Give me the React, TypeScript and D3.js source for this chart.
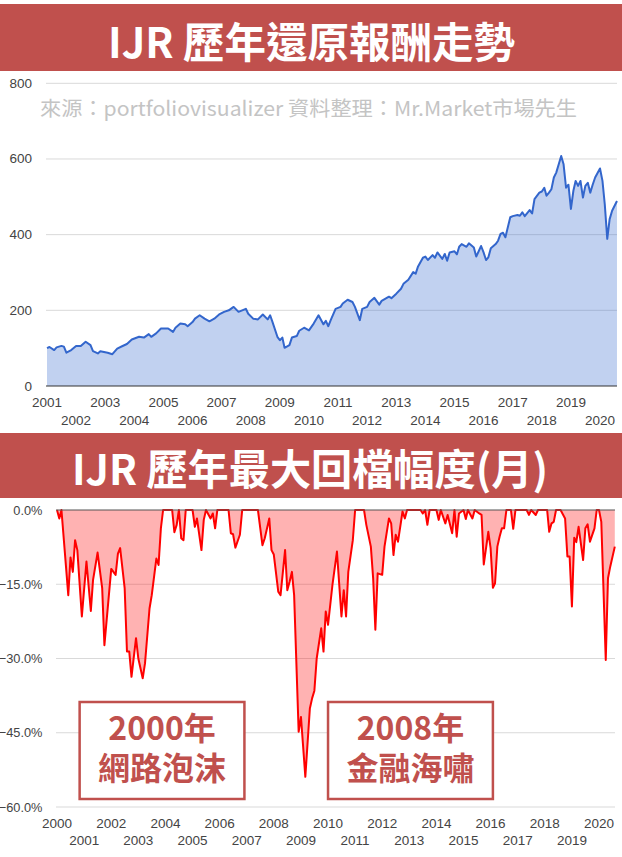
import React from "react";
import * as d3 from "d3";

// ---------- Data ----------
const returnDates = [
  "2001-01","2001-02","2001-04","2001-05","2001-07","2001-08","2001-09","2001-11",
  "2002-01","2002-03","2002-05","2002-07","2002-08","2002-10","2002-11",
  "2003-02","2003-04","2003-06","2003-08","2003-10","2003-12",
  "2004-03","2004-05","2004-07","2004-08","2004-10","2004-12",
  "2005-02","2005-03","2005-05","2005-06","2005-08","2005-10","2005-11",
  "2006-01","2006-02","2006-04","2006-06","2006-08","2006-10","2006-12",
  "2007-02","2007-04","2007-06","2007-08","2007-11","2007-12",
  "2008-02","2008-04","2008-06","2008-08","2008-09","2008-10","2008-12",
  "2009-01","2009-02","2009-03","2009-05","2009-06","2009-08","2009-09","2009-11",
  "2010-01","2010-03","2010-05","2010-07","2010-08","2010-09","2010-10","2010-12",
  "2011-02","2011-03","2011-05","2011-07","2011-08","2011-10","2011-11",
  "2012-01","2012-02","2012-04","2012-06","2012-07","2012-10","2012-11",
  "2013-01","2013-03","2013-04","2013-06","2013-08","2013-09","2013-10","2013-12",
  "2014-01","2014-02","2014-04","2014-05","2014-06","2014-08","2014-09","2014-10","2014-11",
  "2015-01","2015-02","2015-03","2015-04","2015-06","2015-07","2015-09","2015-10","2015-12",
  "2016-01","2016-02","2016-03","2016-04","2016-06","2016-07","2016-08","2016-09","2016-10","2016-12",
  "2017-01","2017-03","2017-04","2017-05","2017-06","2017-08","2017-09","2017-10","2017-12",
  "2018-01","2018-02","2018-03","2018-04","2018-05","2018-06","2018-07","2018-09","2018-10","2018-11","2018-12",
  "2019-01","2019-02","2019-03","2019-04","2019-05","2019-06","2019-07","2019-08","2019-09","2019-10","2019-11",
  "2020-01","2020-02","2020-03","2020-04","2020-05","2020-06","2020-08",
];
const returnValues = [
  100,103,95,102,106,104,88,95,
  106,106,117,108,92,86,92,
  88,84,99,105,111,123,
  130,128,137,130,139,152,
  152,152,143,154,165,163,158,
  169,178,187,178,171,178,189,
  196,200,209,196,204,191,
  178,176,189,176,187,169,130,
  121,128,101,108,128,132,146,154,
  147,165,187,163,172,158,174,204,
  209,218,228,222,209,174,204,
  209,222,233,215,225,236,232,
  244,257,270,281,301,297,316,339,
  342,333,346,339,353,336,349,331,353,
  356,348,368,375,368,377,366,342,370,
  353,333,340,364,375,384,402,405,393,446,
  449,452,450,459,449,465,456,494,511,
  514,524,503,511,520,551,564,608,586,524,532,
  468,516,542,529,542,498,529,537,511,532,551,
  575,542,480,389,441,463,489,
];

const drawdownDates = [
  "2000-01","2000-02","2000-03","2000-06","2000-07","2000-08","2000-09","2000-10","2000-12",
  "2001-02","2001-04","2001-05","2001-07","2001-09","2001-10",
  "2002-01","2002-03","2002-04","2002-05","2002-07","2002-08","2002-09","2002-10","2002-12",
  "2003-01","2003-03","2003-04","2003-06","2003-07","2003-09","2003-10","2003-11","2003-12",
  "2004-04","2004-05","2004-06","2004-07","2004-08","2004-09","2004-10",
  "2005-01","2005-02","2005-03","2005-05","2005-06","2005-07","2005-09","2005-10","2005-11","2005-12",
  "2006-05","2006-06","2006-07","2006-08","2006-10","2006-11",
  "2007-06","2007-08","2007-09","2007-11","2007-12",
  "2008-01","2008-03","2008-04","2008-06","2008-07","2008-08","2008-09","2008-10","2008-12",
  "2009-01","2009-03","2009-05","2009-06","2009-07","2009-08","2009-10","2009-11","2009-12",
  "2010-01","2010-03","2010-05","2010-07","2010-08","2010-09","2010-10","2010-12",
  "2011-01","2011-05","2011-06","2011-08","2011-09","2011-10","2011-11",
  "2012-01","2012-02","2012-04","2012-05","2012-06","2012-07","2012-08","2012-10","2012-11","2012-12",
  "2013-06","2013-07","2013-08","2013-09","2013-10",
  "2014-01","2014-02","2014-03","2014-05","2014-06","2014-08","2014-09","2014-10","2014-11",
  "2015-01","2015-02","2015-03","2015-05","2015-06","2015-08","2015-09","2015-10","2015-12",
  "2016-01","2016-02","2016-03","2016-04","2016-05","2016-06","2016-07","2016-08","2016-10","2016-11","2016-12",
  "2017-05","2017-06","2017-07","2017-09","2017-10",
  "2018-02","2018-03","2018-04","2018-05","2018-06","2018-08","2018-10","2018-11","2018-12",
  "2019-01","2019-02","2019-03","2019-04","2019-06","2019-07","2019-08","2019-09","2019-11","2019-12",
  "2020-01","2020-02","2020-04","2020-05","2020-06","2020-08",
];
const drawdownValues = [
  0,-1.7,0,-17.2,-9.6,-12.5,-6.1,-8.1,-21.5,
  -10.4,-20.4,-14.1,-8.6,-15.8,-27.3,
  -11.9,-13.1,-8.8,-7.7,-15.8,-28.6,-28.6,-33.7,-25.9,
  -30,-34,-31,-19.9,-17.2,-9.8,-11.1,-3.7,0,
  0,-4.5,-3,0,-5.7,-6.1,0,
  0,-3.4,-1.7,-8.1,-2,0,-1.7,-0.7,-3.7,0,
  0,-4.7,-4.9,-7.6,-5,0,
  0,-7.1,-5.7,-1.7,-8.1,
  -9,-16.5,-17.2,-8.1,-16.2,-14.5,-12.5,-17.2,-44.8,
  -41.8,-53.9,-40.1,-38,-36.5,-30,-23.9,-28.6,-20.5,
  -23.2,-15.2,-8.4,-21.5,-16.2,-21.5,-12.5,-6.1,
  0,0,-3,-7.4,-13.8,-24.2,-12.8,
  -13.1,-7.4,-1.7,-2.7,-9.1,-5,-6.4,-0.3,-1.7,0,
  0,-0.7,0,-3,0,
  0,-2,0,-2.7,-1,-4.7,0,-5.4,-0.7,
  0,-1.8,0,-1.7,0,-0.7,-1,-11,-4.4,
  -7.7,-15.7,-14.8,-7.4,-5.4,-3.7,-3.7,0,0,-3.8,0,
  0,-1,0,-1,0,
  0,-4.4,-2.7,-2.4,0,0,-1.7,-9.4,-9.4,
  -19.5,-5.6,-6.5,-3.4,-10.1,-3.7,-2.9,-6.4,-3.7,0,
  0,-2.4,-30.3,-13.8,-11.4,-7.4,
];

const returnTicks = [0, 200, 400, 600, 800];
const returnYears = [2001,2002,2003,2004,2005,2006,2007,2008,2009,2010,2011,2012,2013,2014,2015,2016,2017,2018,2019,2020];
const drawdownTicks = [0, -15, -30, -45, -60];
const drawdownYears = [2000,2001,2002,2003,2004,2005,2006,2007,2008,2009,2010,2011,2012,2013,2014,2015,2016,2017,2018,2019,2020];

const topTitle = "IJR 歷年還原報酬走勢";
const bottomTitle = "IJR 歷年最大回檔幅度(月)";
const watermark = "來源：portfoliovisualizer 資料整理：Mr.Market市場先生";
const notes = [
  { line1: "2000年", line2: "網路泡沫", from: 2000.8, to: 2006.9 },
  { line1: "2008年", line2: "金融海嘯", from: 2010.0, to: 2016.1 },
];

// ---------- Component ----------
const W = 622;
const H = 857;
const BANNER = "#c0504d";
const AXIS_FONT = "'Liberation Sans', Arial, sans-serif";
const CJK_FONT = "'Noto Sans CJK TC', 'Noto Sans CJK SC', sans-serif";

const parse = d3.timeParse("%Y-%m");

export default function App() {
  // top chart
  const topData = returnDates.map((d, i) => ({ date: parse(d) as Date, v: returnValues[i] }));
  const xTop = d3.scaleTime().domain([new Date(2001, 0, 1), new Date(2020, 0, 1)]).range([47, 600]);
  const yTop = d3.scaleLinear().domain([0, 800]).range([386, 83.3]);
  const topLine = d3.line<any>().x((d) => xTop(d.date)).y((d) => yTop(d.v));
  const topArea = d3.area<any>().x((d) => xTop(d.date)).y0(yTop(0)).y1((d) => yTop(d.v));
  const topX0 = 46;
  const topX1 = 617;

  // bottom chart
  const botData = drawdownDates.map((d, i) => ({ date: parse(d) as Date, v: drawdownValues[i] }));
  const xBot = d3.scaleTime().domain([new Date(2000, 0, 1), new Date(2020, 0, 1)]).range([57, 599]);
  const yBot = d3.scaleLinear().domain([-60, 0]).range([807, 510]);
  const botLine = d3.line<any>().x((d) => xBot(d.date)).y((d) => yBot(d.v));
  const botArea = d3.area<any>().x((d) => xBot(d.date)).y0(yBot(0)).y1((d) => yBot(d.v));
  const botX0 = 56;
  const botX1 = 615;

  const yearX = (s: any, y: number) => s(new Date(y, 0, 1));

  return (
    <svg
      width={W}
      height={H}
      viewBox={`0 0 ${W} ${H}`}
      style={{ position: "absolute", left: 0, top: 0, background: "#fff" }}
    >
      <rect x={0} y={0} width={W} height={H} fill="#fff" />

      {/* ===== Top banner ===== */}
      <rect x={0} y={4} width={W} height={67} fill={BANNER} />
      <text
        x={311.5}
        y={39}
        textAnchor="middle"
        dominantBaseline="central"
        fill="#fff"
        fontFamily={CJK_FONT}
        fontWeight={700}
        fontSize={42}
        textLength={407}
        lengthAdjust="spacingAndGlyphs"
      >
        {topTitle}
      </text>

      {/* ===== Top chart ===== */}
      {returnTicks.map((t) => (
        <g key={"tg" + t}>
          {t !== 0 && (
            <line x1={topX0} x2={topX1} y1={yTop(t)} y2={yTop(t)} stroke="#d9d9d9" strokeWidth={1} />
          )}
          <text
            x={32}
            y={yTop(t)}
            textAnchor="end"
            dominantBaseline="central"
            fontFamily={AXIS_FONT}
            fontSize={13.5}
            fill="#444"
          >
            {t}
          </text>
        </g>
      ))}
      <text
        x={40}
        y={116}
        fontFamily={CJK_FONT}
        fontSize={20}
        fill="#c4c4c4"
        textLength={537}
        lengthAdjust="spacingAndGlyphs"
      >
        {watermark}
      </text>
      <path d={topArea(topData) || ""} fill="#3366cc" fillOpacity={0.3} />
      <path d={topLine(topData) || ""} fill="none" stroke="#3366cc" strokeWidth={2} strokeLinejoin="round" />
      <line x1={topX0} x2={topX1} y1={yTop(0)} y2={yTop(0)} stroke="#333" strokeWidth={1.2} />
      {returnYears.map((y, i) => (
        <text
          key={"ty" + y}
          x={yearX(xTop, y)}
          y={i % 2 === 0 ? 407 : 425}
          textAnchor="middle"
          fontFamily={AXIS_FONT}
          fontSize={13.5}
          fill="#444"
        >
          {y}
        </text>
      ))}

      {/* ===== Bottom banner ===== */}
      <rect x={0} y={433} width={W} height={65} fill={BANNER} />
      <text
        x={310}
        y={466}
        textAnchor="middle"
        dominantBaseline="central"
        fill="#fff"
        fontFamily={CJK_FONT}
        fontWeight={700}
        fontSize={42}
        textLength={476}
        lengthAdjust="spacingAndGlyphs"
      >
        {bottomTitle}
      </text>

      {/* ===== Bottom chart ===== */}
      {drawdownTicks.map((t) => (
        <g key={"bg" + t}>
          {t !== 0 && (
            <line x1={botX0} x2={botX1} y1={yBot(t)} y2={yBot(t)} stroke="#d9d9d9" strokeWidth={1} />
          )}
          <text
            x={42.5}
            y={yBot(t)}
            textAnchor="end"
            dominantBaseline="central"
            fontFamily={AXIS_FONT}
            fontSize={12.8}
            fill="#444"
          >
            {d3.format(".1f")(t) + "%"}
          </text>
        </g>
      ))}
      <path d={botArea(botData) || ""} fill="#ff0000" fillOpacity={0.3} />
      <path d={botLine(botData) || ""} fill="none" stroke="#ff0000" strokeWidth={2} strokeLinejoin="round" />
      <line x1={botX0} x2={botX1} y1={yBot(0)} y2={yBot(0)} stroke="#555" strokeWidth={1.2} />
      {drawdownYears.map((y, i) => (
        <text
          key={"by" + y}
          x={yearX(xBot, y)}
          y={i % 2 === 0 ? 828 : 845}
          textAnchor="middle"
          fontFamily={AXIS_FONT}
          fontSize={13.5}
          fill="#444"
        >
          {y}
        </text>
      ))}

      {/* ===== Annotation boxes ===== */}
      {notes.map((n) => {
        const x0 = xBot(new Date(Math.floor(n.from), Math.round((n.from % 1) * 12), 1));
        const x1 = xBot(new Date(Math.floor(n.to), Math.round((n.to % 1) * 12), 1));
        const cx = (x0 + x1) / 2;
        return (
          <g key={n.line1}>
            <rect x={x0} y={702} width={x1 - x0} height={97} fill="#fff" stroke={BANNER} strokeWidth={2.5} />
            <text x={cx} y={740} textAnchor="middle" fontFamily={CJK_FONT} fontWeight={700} fontSize={32} fill={BANNER}>
              {n.line1}
            </text>
            <text x={cx} y={780} textAnchor="middle" fontFamily={CJK_FONT} fontWeight={700} fontSize={32} fill={BANNER}>
              {n.line2}
            </text>
          </g>
        );
      })}
    </svg>
  );
}
